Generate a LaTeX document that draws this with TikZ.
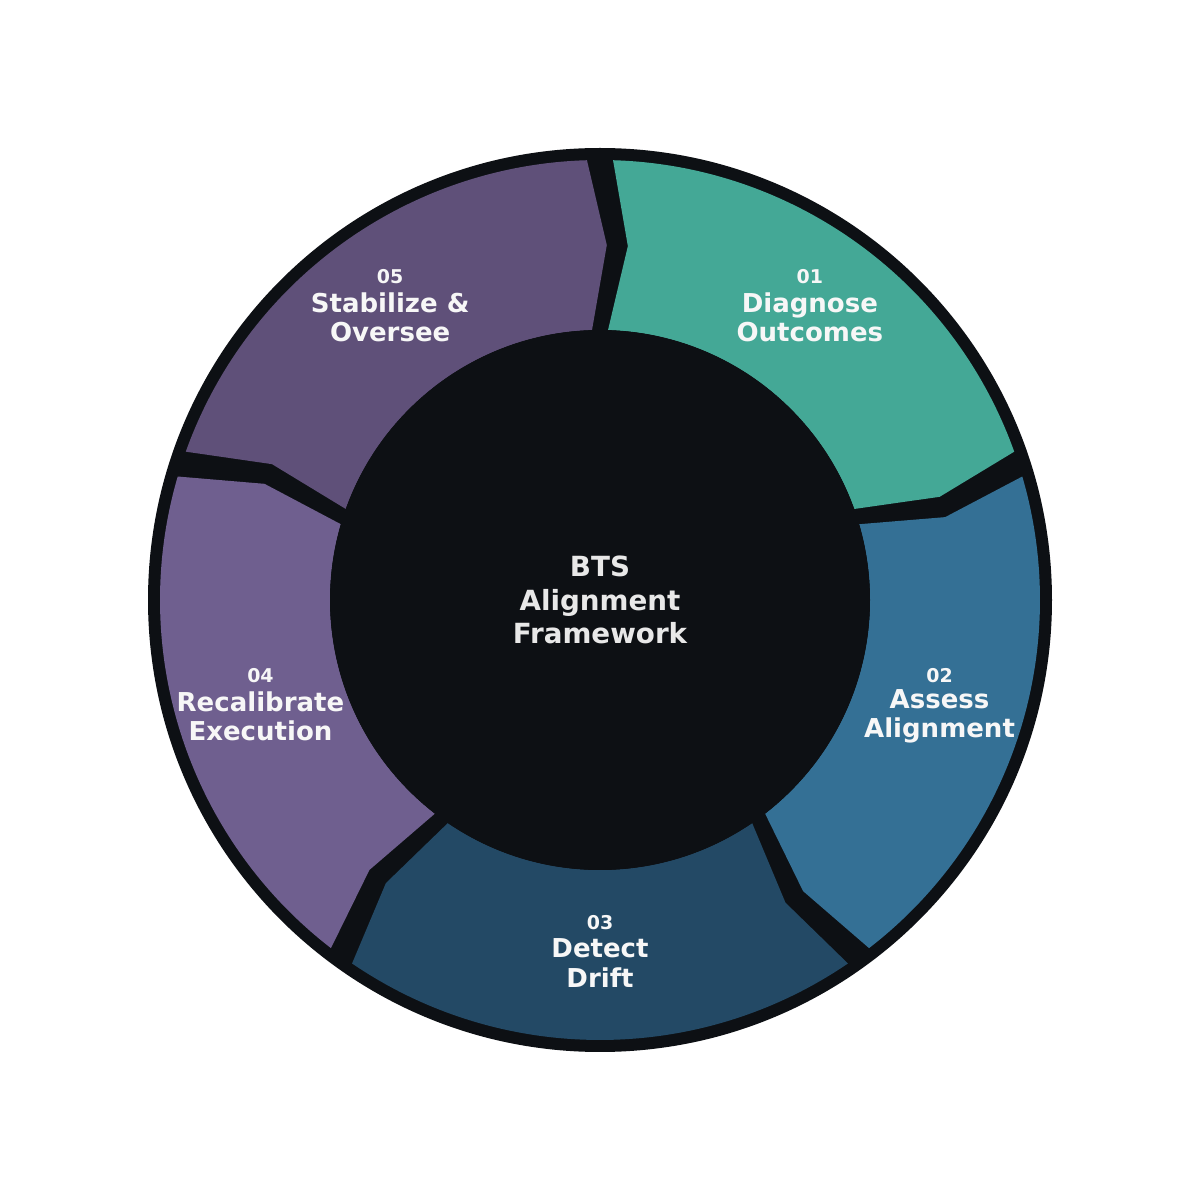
\documentclass[tikz,border=0pt]{standalone}
\usepackage{fontspec}
\setmainfont{DejaVu Sans}
\usetikzlibrary{calc}
\definecolor{darkbg}{HTML}{0D1014}
\definecolor{cA}{HTML}{44A896}
\definecolor{cB}{HTML}{347095}
\definecolor{cC}{HTML}{234965}
\definecolor{cD}{HTML}{6F5F8F}
\definecolor{cE}{HTML}{5F5079}
\definecolor{labtxt}{HTML}{F7F7F7}
\definecolor{centtxt}{HTML}{E8E8E8}
\tikzset{
  labnode/.style={text=labtxt, font=\bfseries\fontsize{7.4}{8.3}\selectfont, align=center, inner sep=0pt},
  numnode/.style={text=labtxt, font=\bfseries\fontsize{5.4}{6}\selectfont, inner sep=0pt},
  centnode/.style={text=centtxt, font=\bfseries\fontsize{7.9}{9.5}\selectfont, align=center, inner sep=0pt}
}
\begin{document}
\begin{tikzpicture}
\useasboundingbox (0,0) rectangle (12,12);
\begin{scope}[shift={(6,6)}]
\fill[darkbg] (0,0) circle (4.52);
\foreach \i/\col in {0/cA,1/cB,2/cC,3/cD,4/cE}{
  \pgfmathsetmacro{\s}{90-72*\i-1.7}
  \pgfmathsetmacro{\e}{90-72*(\i+1)+1.7}
  \pgfmathsetmacro{\t}{\e-2.8}
  \pgfmathsetmacro{\n}{\s-2.8}
  \fill[\col] (\s:4.40) arc[start angle=\s, end angle=\e, radius=4.40]
     -- (\t:3.55) -- (\e:2.70)
     arc[start angle=\e, end angle=\s, radius=2.70]
     -- (\n:3.55) -- cycle;
}
\fill[darkbg] (0,0) circle (2.70);
\node[centnode] (center) at (0,0) {BTS\\Alignment\\Framework};
\foreach \i/\num/\la/\lb in {0/01/Diagnose/Outcomes,1/02/Assess/Alignment,2/03/Detect/Drift,3/04/Recalibrate/Execution,4/05/Stabilize \&/Oversee}{
  \pgfmathsetmacro{\m}{54-72*\i}
  \node[labnode] (lab\i) at ($(\m:3.57)+(0,-0.06)$) {\la\\\lb};
  \node[numnode] (num\i) at ($(lab\i.center)+(0,0.405)$) {\num};
}
\end{scope}
\end{tikzpicture}
\end{document}
